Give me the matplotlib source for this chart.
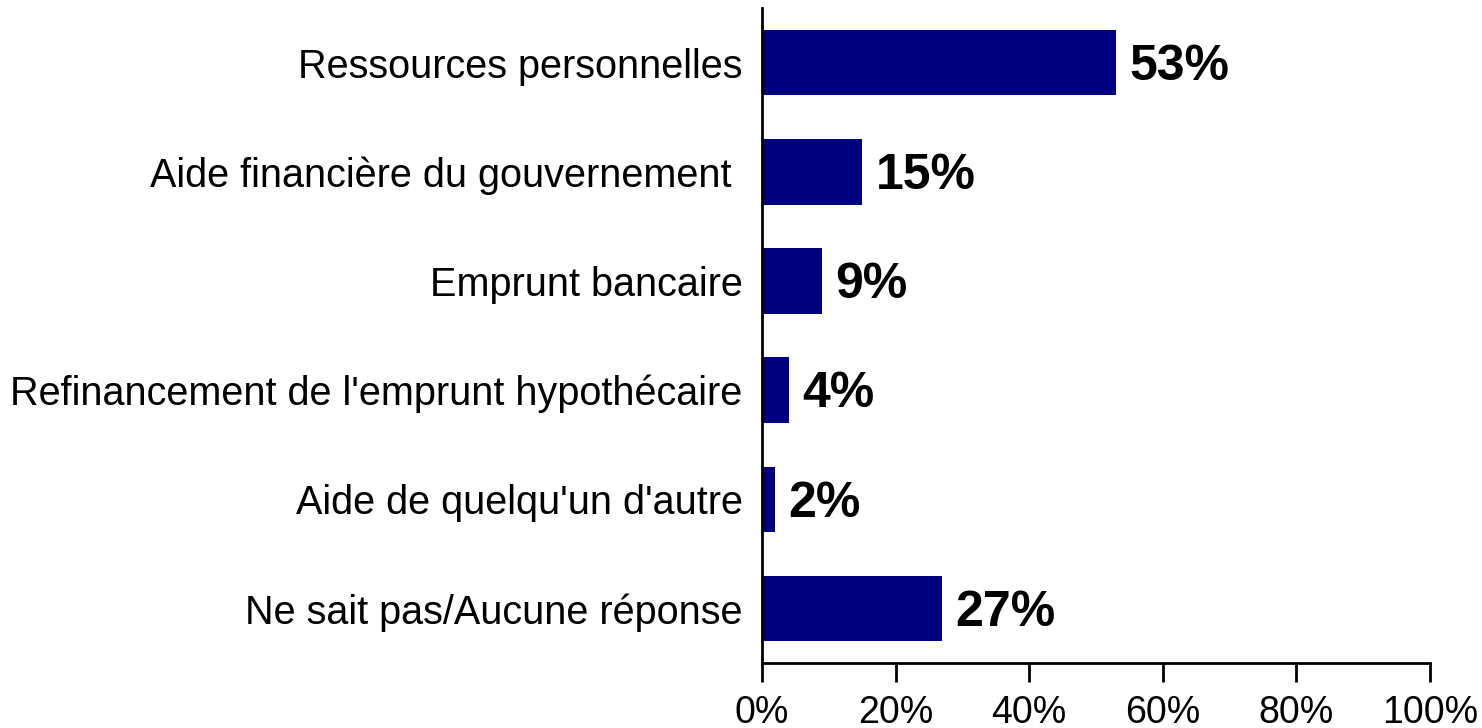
import matplotlib
matplotlib.use("Agg")
import matplotlib.pyplot as plt

categories = [
    "Ressources personnelles",
    "Aide financière du gouvernement ",
    "Emprunt bancaire",
    "Refinancement de l'emprunt hypothécaire",
    "Aide de quelqu'un d'autre",
    "Ne sait pas/Aucune réponse",
]
values = [53, 15, 9, 4, 2, 27]
xticks = [0, 20, 40, 60, 80, 100]
xtick_labels = ["0%", "20%", "40%", "60%", "80%", "100%"]

fig = plt.figure(figsize=(14.82, 7.28), dpi=100)
ax = fig.add_axes([762/1482, 1 - 663/728, (1430-762)/1482, (663-8)/728])

y = list(range(len(categories)))
ax.barh(y, values, height=0.6, color="#000080", zorder=2)
ax.set_ylim(len(categories) - 0.5, -0.5)
ax.set_xlim(0, 100)

for yi, v in zip(y, values):
    ax.text(v + 2, yi + 0.04, f"{v}%", va="center", ha="left", fontsize=36,
            fontweight="bold", family="Liberation Sans", color="black")

ax.set_yticks(y)
ax.set_yticklabels(categories, family="Liberation Sans", fontsize=28.5)
ax.tick_params(axis="y", length=0, pad=14)
ax.set_xticks(xticks)
ax.set_xticklabels(xtick_labels, family="Liberation Sans", fontsize=27)
ax.tick_params(axis="x", direction="out", length=14, width=2, pad=9, color="black")

for s in ["top", "right"]:
    ax.spines[s].set_visible(False)
ax.spines["left"].set_linewidth(2)
ax.spines["bottom"].set_linewidth(2)

fig.savefig("out.png", dpi=100, facecolor="white")
